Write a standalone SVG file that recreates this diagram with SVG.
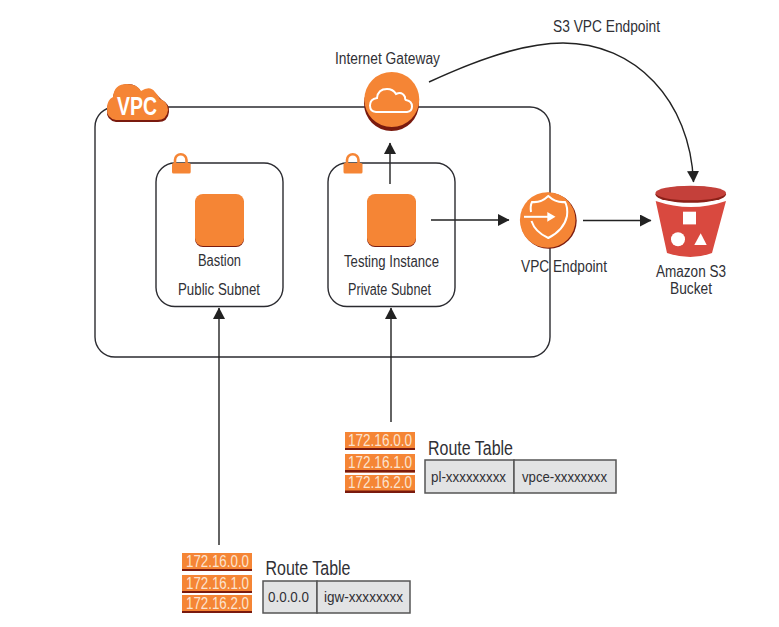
<svg xmlns="http://www.w3.org/2000/svg" width="779" height="627" viewBox="0 0 779 627">
<style>
text{font-family:"Liberation Sans",Arial,sans-serif;font-size:16px;fill:#303035}
.c{text-anchor:middle}
.box{fill:none;stroke:#2b2b30;stroke-width:1.4}
.con{fill:none;stroke:#222;stroke-width:1.4}
.o{fill:#f58535}
.d{fill:#7a1a0e}
.w{fill:none;stroke:#fff;stroke-width:2}
.ip{fill:#fbe3cf;font-size:17px}
.cell{fill:#e2e3e4;stroke:#555;stroke-width:1.5}
.rt{font-size:20px}
.v{font-size:15px}
</style>
<defs>
<marker id="ah" markerUnits="userSpaceOnUse" markerWidth="13" markerHeight="13" refX="11" refY="6" orient="auto"><path d="M0 0L11.500 6L0 12Z" fill="#222"/></marker>
</defs>
<rect width="779" height="627" fill="#fff"/>
<g id="vpc">
<rect class="box" x="95" y="107" width="455" height="250" rx="20"/>
<path class="d" d="M116 122Q106 120 107 110Q107 102 113 98Q114 85 128 84Q137 84 141 92Q150 86 156 94Q160 98 162 100Q170 104 169 112Q168 122 158 122Z"/>
<path class="o" d="M116 120Q106 118 107 108Q107 100 113 97Q114 84 127 84Q137 84 141 91Q150 85 155 92Q158 95 160 99Q168 102 168 110Q167 120 157 120Z"/>
<text x="117" y="115" textLength="40" lengthAdjust="spacingAndGlyphs" style="fill:#fff;font-size:25px;font-weight:bold">VPC</text>
</g>
<g id="connectors">
<path class="con" marker-end="url(#ah)" d="M390 184V143"/>
<path class="con" marker-end="url(#ah)" d="M431 220H509"/>
<path class="con" marker-end="url(#ah)" d="M583 220.500H651"/>
<path class="con" marker-end="url(#ah)" d="M429 82C470 63 520 43 563 43C635 43 690 100 693.500 182"/>
<path class="con" marker-end="url(#ah)" d="M219 545V308"/>
<path class="con" marker-end="url(#ah)" d="M391 422V308"/>
</g>
<g id="public-subnet">
<rect class="box" x="156" y="163" width="127" height="143.500" rx="19"/>
<g><path d="M175 164V160A5.700 5.700 0 0 1 186.500 160V164" fill="none" stroke="#f58535" stroke-width="2.600"/><rect class="o" x="172" y="163" width="18.700" height="10.500" rx="1.500"/></g>
<rect class="d" x="195" y="196" width="49" height="51" rx="8"/>
<rect class="o" x="195" y="194" width="49" height="52" rx="8"/>
<text x="198" y="266" textLength="43" lengthAdjust="spacingAndGlyphs">Bastion</text>
<text x="178" y="295" textLength="82" lengthAdjust="spacingAndGlyphs">Public Subnet</text>
</g>
<g id="private-subnet">
<rect class="box" x="328" y="163" width="127" height="143.500" rx="19"/>
<g><path d="M347 164V160A5.700 5.700 0 0 1 358.500 160V164" fill="none" stroke="#f58535" stroke-width="2.600"/><rect class="o" x="343.500" y="163" width="19" height="10.500" rx="1.500"/></g>
<rect class="d" x="367" y="196" width="49" height="51" rx="8"/>
<rect class="o" x="367" y="194" width="49" height="52" rx="8"/>
<text x="344" y="267" textLength="95" lengthAdjust="spacingAndGlyphs">Testing Instance</text>
<text x="348" y="295" textLength="83" lengthAdjust="spacingAndGlyphs">Private Subnet</text>
</g>
<g id="internet-gateway">
<circle class="d" cx="391.500" cy="103.500" r="27.500"/>
<circle class="o" cx="391.800" cy="99.500" r="27.500"/>
<path class="w" d="M376 112Q370 111.500 370 105.500Q370 99 377 98Q378 89 387 89Q393 89 396 94Q402 91 405 97Q405 100 406 100Q412 101 412 106.500Q412 111.500 407 112Z"/>
<text x="335" y="64" textLength="105" lengthAdjust="spacingAndGlyphs">Internet Gateway</text>
</g>
<g id="vpc-endpoint">
<circle class="d" cx="548.700" cy="220.800" r="28"/>
<circle class="o" cx="547.700" cy="220" r="27.800"/>
<path class="w" d="M531 212Q530 206 532 202Q541 203 548.300 196Q556 203 565 202Q568 207 567 216Q564 230 548.300 238Q535 232 531.500 221"/>
<path class="w" d="M524 216.800H550"/>
<path d="M547.300 212L555.500 216.800L547.300 221.700Z" fill="#fff"/>
<text x="521" y="272" textLength="86" lengthAdjust="spacingAndGlyphs">VPC Endpoint</text>
</g>
<g id="s3-bucket">
<path d="M655.700 201Q691 213 726 201L712 253Q691 261 667 253Z" fill="#d9493f"/>
<ellipse cx="690.700" cy="194.500" rx="35.300" ry="8.300" fill="#8a2018"/>
<ellipse cx="690.700" cy="193" rx="35.300" ry="7.300" fill="#c4403a"/>
<rect x="683" y="211.700" width="13" height="12.700" fill="#fff"/>
<circle cx="678" cy="239.300" r="7" fill="#fff"/>
<path d="M700.700 233.300L706.700 245H694.300Z" fill="#fff"/>
<text class="c" x="691" y="277" textLength="70" lengthAdjust="spacingAndGlyphs">Amazon S3</text>
<text class="c" x="691" y="294" textLength="42" lengthAdjust="spacingAndGlyphs">Bucket</text>
</g>
<text id="s3-endpoint-label" x="553" y="32" textLength="107" lengthAdjust="spacingAndGlyphs">S3 VPC Endpoint</text>
<g id="route-table-private">
<rect class="o" x="345" y="432" width="70" height="18"/><rect class="d" x="345" y="448" width="70" height="2"/>
<rect class="o" x="345" y="454" width="70" height="18.500"/><rect class="d" x="345" y="470" width="70" height="2.500"/>
<rect class="o" x="345" y="475" width="70" height="18"/><rect class="d" x="345" y="490.500" width="70" height="2.500"/>
<text class="ip" x="348" y="446" textLength="64" lengthAdjust="spacingAndGlyphs">172.16.0.0</text>
<text class="ip" x="348" y="468" textLength="64" lengthAdjust="spacingAndGlyphs">172.16.1.0</text>
<text class="ip" x="348" y="488" textLength="64" lengthAdjust="spacingAndGlyphs">172.16.2.0</text>
<text class="rt" x="428" y="455" textLength="85" lengthAdjust="spacingAndGlyphs">Route Table</text>
<rect class="cell" x="425" y="460" width="89" height="33"/>
<rect class="cell" x="514" y="460" width="102" height="33"/>
<text class="v" x="431" y="482" textLength="75" lengthAdjust="spacingAndGlyphs">pl-xxxxxxxxx</text>
<text class="v" x="522" y="482" textLength="85" lengthAdjust="spacingAndGlyphs">vpce-xxxxxxxx</text>
</g>
<g id="route-table-public">
<rect class="o" x="182" y="553" width="70" height="18"/><rect class="d" x="182" y="569" width="70" height="2"/>
<rect class="o" x="182" y="575" width="70" height="18"/><rect class="d" x="182" y="591" width="70" height="2"/>
<rect class="o" x="182" y="595" width="70" height="18"/><rect class="d" x="182" y="611" width="70" height="2"/>
<text class="ip" x="186" y="567" textLength="63" lengthAdjust="spacingAndGlyphs">172.16.0.0</text>
<text class="ip" x="186" y="589" textLength="63" lengthAdjust="spacingAndGlyphs">172.16.1.0</text>
<text class="ip" x="186" y="609" textLength="63" lengthAdjust="spacingAndGlyphs">172.16.2.0</text>
<text class="rt" x="265.500" y="575" textLength="85" lengthAdjust="spacingAndGlyphs">Route Table</text>
<rect class="cell" x="263" y="581" width="54" height="32"/>
<rect class="cell" x="317" y="581" width="93" height="32"/>
<text class="v" x="268" y="602" textLength="41" lengthAdjust="spacingAndGlyphs">0.0.0.0</text>
<text class="v" x="324" y="602" textLength="79" lengthAdjust="spacingAndGlyphs">igw-xxxxxxxx</text>
</g>
</svg>
